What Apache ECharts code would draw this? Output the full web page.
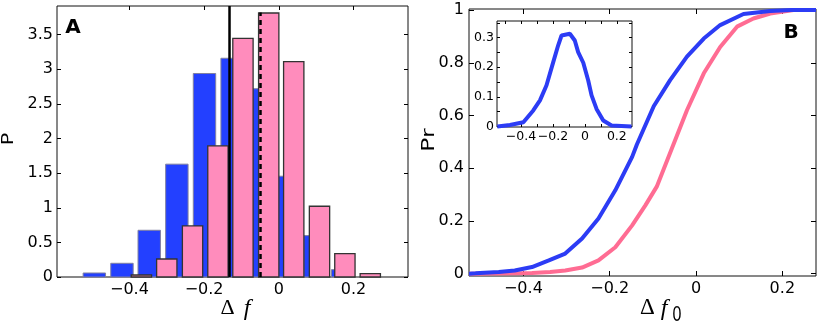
<!DOCTYPE html>
<html>
<head>
<meta charset="utf-8">
<script src="https://cdn.jsdelivr.net/npm/echarts@6/dist/echarts.min.js"></script>
<style>html,body{margin:0;padding:0;background:#fff}#c{width:818px;height:334px}</style>
</head>
<body>
<div id="c"></div>
<script>
// ---- Panel A: histograms ----
const blueBins = [-0.494, -0.420, -0.347, -0.273, -0.199, -0.125, -0.051, 0.023, 0.097, 0.171];
const blueP    = [0.058, 0.198, 0.675, 1.63, 2.94, 3.16, 2.72, 1.456, 0.598, 0.106];
const pinkBins = [-0.368, -0.300, -0.231, -0.163, -0.096, -0.027, 0.040, 0.109, 0.177, 0.245];
const pinkP    = [0.029, 0.26, 0.738, 1.895, 3.447, 3.814, 3.11, 1.022, 0.338, 0.048];
const meanBlue = -0.132;   // solid line
const meanPink = -0.049;   // dashed line
const meanPinkTop = 3.82;
const aXTicks = [-0.4, -0.2, 0, 0.2];
const aYTicks = [0, 0.5, 1, 1.5, 2, 2.5, 3, 3.5];

// ---- Panel B: cumulative curves ----
const blueCdfX = [-0.526, -0.511, -0.457, -0.42, -0.38, -0.341, -0.303, -0.264, -0.226, -0.187, -0.148, -0.137, -0.098, -0.06, -0.021, 0.018, 0.056, 0.11, 0.172, 0.22, 0.278];
const blueCdfY = [0, 0.001, 0.006, 0.012, 0.025, 0.05, 0.076, 0.133, 0.209, 0.316, 0.443, 0.49, 0.635, 0.734, 0.823, 0.892, 0.943, 0.985, 0.996, 1, 1];
const pinkCdfX = [-0.526, -0.42, -0.38, -0.338, -0.303, -0.264, -0.226, -0.187, -0.148, -0.117, -0.091, -0.056, -0.021, 0.018, 0.056, 0.095, 0.133, 0.172, 0.226, 0.278];
const pinkCdfY = [0, 0.001, 0.002, 0.006, 0.012, 0.023, 0.05, 0.1, 0.183, 0.26, 0.33, 0.475, 0.62, 0.76, 0.86, 0.937, 0.968, 0.987, 1, 1];
const bXTicks = [-0.4, -0.2, 0, 0.2];
const bYTicks = [0, 0.2, 0.4, 0.6, 0.8, 1];

// ---- Inset ----
const insetX = [-0.548, -0.469, -0.385, -0.323, -0.281, -0.240, -0.198, -0.167, -0.146, -0.135, -0.094, -0.063, -0.042, -0.010, 0.021, 0.042, 0.073, 0.115, 0.167, 0.292];
const insetY = [0, 0.005, 0.014, 0.054, 0.088, 0.139, 0.217, 0.274, 0.307, 0.313, 0.313, 0.29, 0.251, 0.215, 0.155, 0.105, 0.059, 0.02, 0.003, 0];
const iXLabels = [-0.4, -0.2, 0, 0.2];
const iXTicks = [-0.5, -0.4, -0.3, -0.2, -0.1, 0, 0.1, 0.2];
const iYLabels = [0, 0.1, 0.2, 0.3];
const iYTicks = [0, 0.05, 0.1, 0.15, 0.2, 0.25, 0.3, 0.35];

const zip = (a, b) => a.map((v, i) => [v, b[i]]);
const fmt = v => { const s = String(Math.abs(v)); return v < 0 ? '\u2212' + s : s; };
const TF = '"DejaVu Sans"';

function axisPair(kind, g, min, max, ticks, labels, fs, margin, tlen) {
  const pos = kind === 'x' ? ['bottom', 'top'] : ['left', 'right'];
  const base = {gridIndex: g, type: 'value', min: min, max: max, splitLine: {show: false},
    axisLine: {show: false, onZero: false}};
  return [
    Object.assign({}, base, {position: pos[0],
      axisTick: {inside: true, length: tlen, customValues: ticks, lineStyle: {color: '#000', width: 1}},
      axisLabel: {customValues: labels, formatter: fmt, margin: margin, fontFamily: TF, fontSize: fs, color: '#000'}}),
    Object.assign({}, base, {position: pos[1],
      axisTick: {inside: true, length: tlen, customValues: ticks, lineStyle: {color: '#000', width: 1}},
      axisLabel: {show: false}})
  ];
}

function barRender(width, style) {
  return function (params, api) {
    const x = api.value(0), y = api.value(1);
    const p0 = api.coord([x - width / 2, y]);
    const p1 = api.coord([x + width / 2, 0]);
    return {type: 'rect', shape: {x: p0[0], y: p0[1], width: p1[0] - p0[0], height: p1[1] - p0[1]}, style: style};
  };
}

const chart = echarts.init(document.getElementById('c'), null, {renderer: 'canvas'});
const option = {
  animation: false,
  backgroundColor: '#fff',
  grid: [
    {left: 57, right: 410, top: 6, bottom: 57, show: true, borderColor: '#111', borderWidth: 1, backgroundColor: '#fff'},
    {left: 469, right: 2, top: 9, bottom: 58, show: true, borderColor: '#111', borderWidth: 1, backgroundColor: '#fff'},
    {left: 497, right: 186, top: 21, bottom: 207, show: true, borderColor: '#111', borderWidth: 1, backgroundColor: '#fff'}
  ],
  xAxis: [].concat(
    axisPair('x', 0, -0.594, 0.346, aXTicks, aXTicks, 16, 5, 4),
    axisPair('x', 1, -0.526, 0.278, bXTicks, bXTicks, 16, 5, 5),
    axisPair('x', 2, -0.55, 0.295, iXTicks, iXLabels, 12.5, 3, 3)
  ),
  yAxis: [].concat(
    axisPair('y', 0, 0, 3.915, aYTicks, aYTicks, 16, 4, 4),
    axisPair('y', 1, -0.009, 1.004, bYTicks, bYTicks, 16, 5, 5),
    axisPair('y', 2, -0.002, 0.356, iYTicks, iYLabels, 12.5, 3, 3)
  ),
  series: [
    {type: 'custom', xAxisIndex: 0, yAxisIndex: 0, z: 2, encode: {x: 0, y: 1},
      renderItem: barRender(0.06, {fill: '#2340ff', stroke: '#8080a0', lineWidth: 1}),
      data: zip(blueBins, blueP)},
    {type: 'custom', xAxisIndex: 0, yAxisIndex: 0, z: 3, encode: {x: 0, y: 1},
      renderItem: barRender(0.0544, {fill: '#ff8cbc', stroke: '#333', lineWidth: 1.3}),
      data: zip(pinkBins, pinkP)},
    {type: 'line', xAxisIndex: 0, yAxisIndex: 0, z: 5, showSymbol: false, silent: true,
      lineStyle: {color: '#000', width: 2.5}, data: [[meanBlue, 0], [meanBlue, 3.915]]},
    {type: 'line', xAxisIndex: 0, yAxisIndex: 0, z: 5, showSymbol: false, silent: true,
      lineStyle: {color: '#000', width: 2.5, type: [5, 4]}, data: [[meanPink, 0], [meanPink, meanPinkTop]]},
    {type: 'line', xAxisIndex: 2, yAxisIndex: 2, z: 4, showSymbol: false, silent: true,
      lineStyle: {color: '#ff6c93', width: 4}, data: zip(pinkCdfX, pinkCdfY)},
    {type: 'line', xAxisIndex: 2, yAxisIndex: 2, z: 5, showSymbol: false, silent: true,
      lineStyle: {color: '#2c3cf5', width: 4}, data: zip(blueCdfX, blueCdfY)},
    {type: 'line', xAxisIndex: 4, yAxisIndex: 4, z: 6, showSymbol: false, silent: true,
      lineStyle: {color: '#2c3cf5', width: 4}, data: zip(insetX, insetY)}
  ],
  graphic: [
    {type: 'text', x: 73, y: 28, z: 20, style: {text: 'A', font: 'bold 20px "DejaVu Sans"', align: 'center', verticalAlign: 'middle', fill: '#000'}},
    {type: 'text', x: 791, y: 33, z: 20, style: {text: 'B', font: 'bold 20px "DejaVu Sans"', align: 'center', verticalAlign: 'middle', fill: '#000'}},
    {type: 'text', x: 9, y: 139, rotation: Math.PI / 2, scaleX: 1.3, z: 20, style: {text: 'P', font: '16px "DejaVu Sans"', align: 'center', verticalAlign: 'middle', fill: '#000'}},
    {type: 'text', x: 429, y: 140, rotation: Math.PI / 2, scaleX: 1.3, z: 20, style: {text: 'Pr', font: '18px "DejaVu Sans"', align: 'center', verticalAlign: 'middle', fill: '#000'}},
    {type: 'text', x: 227.5, y: 308, z: 20, style: {text: '\u0394', font: '22px "Liberation Serif"', align: 'center', verticalAlign: 'middle', fill: '#000'}},
    {type: 'text', x: 247, y: 309, z: 20, style: {text: 'f', font: 'italic 24px "Liberation Serif"', align: 'center', verticalAlign: 'middle', fill: '#000'}},
    {type: 'text', x: 647.5, y: 307.5, z: 20, style: {text: '\u0394', font: '23px "Liberation Serif"', align: 'center', verticalAlign: 'middle', fill: '#000'}},
    {type: 'text', x: 664, y: 309, z: 20, style: {text: 'f', font: 'italic 24px "Liberation Serif"', align: 'center', verticalAlign: 'middle', fill: '#000'}},
    {type: 'text', x: 677, y: 315, scaleY: 1.35, z: 20, style: {text: '0', font: '16px "Liberation Sans"', align: 'center', verticalAlign: 'middle', fill: '#000'}}
  ]
};
chart.setOption(option);
</script>
</body>
</html>
